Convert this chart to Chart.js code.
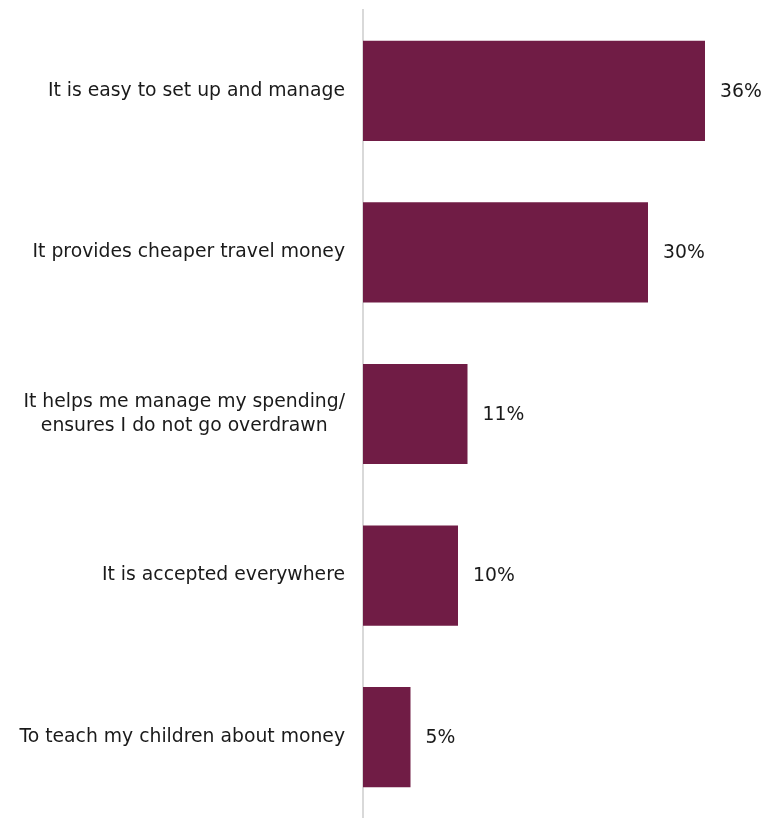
<!DOCTYPE html>
<html>
<head>
<meta charset="utf-8">
<script src="https://cdn.jsdelivr.net/npm/chart.js@4/dist/chart.umd.min.js"></script>
<style>
  html, body { margin: 0; padding: 0; background: #fff; }
  #wrap { width: 777px; height: 818px; }
</style>
</head>
<body>
<div id="wrap"><canvas id="reasonsChart" width="777" height="818"></canvas></div>
<script>
const reasons = [
    'It is easy to set up and manage',
    'It provides cheaper travel money',
    ['It helps me manage my spending/', 'ensures I do not go overdrawn'],
    'It is accepted everywhere',
    'To teach my children about money'
];
const shares = [36, 30, 11, 10, 5]; // % of respondents

const barColour = '#701c45';
const textColour = '#1a1a1a';
const fontFamily = '"DejaVu Sans", sans-serif';
const fontSize = 18.8;
const lineGap = 24;

// writes the "NN%" text just past the end of each bar
const valueLabels = {
    id: 'valueLabels',
    afterDatasetsDraw(chart) {
        const ctx = chart.ctx;
        const meta = chart.getDatasetMeta(0);
        ctx.save();
        ctx.font = fontSize + 'px ' + fontFamily;
        ctx.fillStyle = textColour;
        ctx.textAlign = 'left';
        ctx.textBaseline = 'middle';
        meta.data.forEach((bar, i) => {
            ctx.fillText(shares[i] + '%', bar.x + 15, bar.y + 1);
        });
        ctx.restore();
    }
};

// category labels: right-aligned block, lines of a wrapped label centred on each other
const categoryLabels = {
    id: 'categoryLabels',
    afterDraw(chart) {
        const ctx = chart.ctx;
        const yScale = chart.scales.y;
        const rightEdge = yScale.right - 18;
        ctx.save();
        ctx.font = fontSize + 'px ' + fontFamily;
        ctx.fillStyle = textColour;
        ctx.textAlign = 'center';
        ctx.textBaseline = 'middle';
        reasons.forEach((label, i) => {
            const lines = Array.isArray(label) ? label : [label];
            const widest = Math.max(...lines.map(l => ctx.measureText(l).width));
            const cx = rightEdge - widest / 2;
            const cy = yScale.getPixelForValue(i) - (lines.length - 1) * lineGap / 2;
            lines.forEach((line, k) => ctx.fillText(line, cx, cy + k * lineGap));
        });
        ctx.restore();
    }
};

const ctx = document.getElementById('reasonsChart').getContext('2d');
const reasonsChart = new Chart(ctx, {
    type: 'bar',
    data: {
        labels: reasons,
        datasets: [{
            data: shares,
            backgroundColor: barColour,
            borderWidth: 0,
            categoryPercentage: 1,
            barPercentage: 0.62
        }]
    },
    options: {
        indexAxis: 'y',
        responsive: false,
        animation: false,
        layout: { padding: { top: 10, right: 34, bottom: 0, left: 0 } },
        plugins: {
            legend: { display: false },
            tooltip: { enabled: false }
        },
        scales: {
            x: {
                display: false,
                min: 0,
                max: 40
            },
            y: {
                afterFit(scale) {
                    scale.width = 363;
                    scale.paddingTop = 0;
                    scale.paddingBottom = 0;
                },
                grid: { display: false },
                border: { display: true, color: '#d9d9d9', width: 2 },
                ticks: { display: false }
            }
        }
    },
    plugins: [valueLabels, categoryLabels]
});
</script>
</body>
</html>
